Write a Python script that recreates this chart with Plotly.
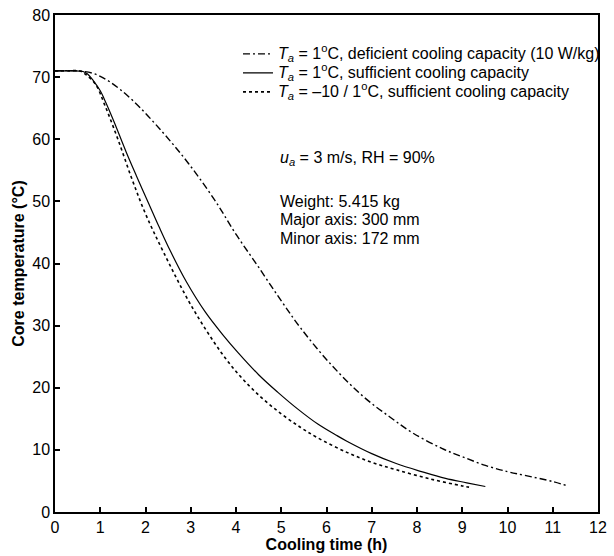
import plotly.graph_objects as go

# Ta = 1°C, deficient cooling capacity (10 W/kg)
t_def = [0, 0.5, 0.84, 1.2, 1.71, 2.37, 2.95, 3.53, 4.01, 4.5, 4.99, 5.43, 6.08, 6.81, 7.4, 7.91, 8.56, 9.0, 9.51, 10.0, 10.38, 11.0, 11.33]
y_def = [71, 71, 70.6, 69.3, 66.3, 61.2, 56.1, 50.2, 44.6, 39.4, 34.1, 29.6, 23.9, 18.6, 15.3, 12.7, 10.2, 8.9, 7.5, 6.5, 5.9, 4.9, 4.2]

# Ta = 1°C, sufficient cooling capacity
t_suf = [0, 0.3, 0.62, 0.72, 0.85, 1.0, 1.13, 1.3, 1.57, 1.8, 2.08, 2.3, 2.55, 2.9, 3.32, 3.7, 4.04, 4.5, 4.92, 5.36, 5.8, 6.23, 6.45, 7.0, 7.54, 8.1, 8.63, 9.1, 9.51]
y_suf = [71, 71, 70.9, 70.5, 69.4, 67.8, 65.8, 62.9, 58.0, 54.1, 49.5, 45.9, 42.0, 37.1, 32.2, 28.6, 25.7, 22.1, 19.3, 16.6, 14.2, 12.3, 11.4, 9.4, 7.8, 6.5, 5.4, 4.7, 4.1]

# Ta = -10 / 1°C, sufficient cooling capacity
t_low = [0, 0.3, 0.55, 0.7, 0.9, 1.1, 1.4, 1.7, 2.0, 2.4, 3.02, 3.68, 4.1, 4.55, 5.0, 5.43, 5.79, 6.45, 7.0, 7.54, 8.3, 9.0, 9.15]
y_low = [71, 71, 71, 70.3, 68.8, 65.5, 59.8, 53.6, 48.0, 41.8, 33.1, 25.6, 21.8, 18.5, 15.8, 13.6, 12.0, 9.6, 8.0, 6.8, 5.3, 4.2, 4.0]

names = [
    "<i>T<sub>a</sub></i> = 1<sup>o</sup>C, deficient cooling capacity (10 W/kg)",
    "<i>T<sub>a</sub></i> = 1<sup>o</sup>C, sufficient cooling capacity",
    "<i>T<sub>a</sub></i> = \u201310 / 1<sup>o</sup>C, sufficient cooling capacity",
]

note_lines = [
    "<i>u<sub>a</sub></i> = 3 m/s, RH = 90%",
    "Weight: 5.415 kg",
    "Major axis: 300 mm",
    "Minor axis: 172 mm",
]
note_y = [0.712, 0.624, 0.588, 0.551]

x_ticks = list(range(0, 13))
y_ticks = list(range(0, 81, 10))

font_family = "Liberation Sans, Arial, Helvetica, sans-serif"
FS = 16

def big(s):
    return '<span style="font-size:16px">' + s + "</span>"

fig = go.Figure()
fig.add_trace(go.Scatter(x=t_def, y=y_def, mode="lines", name=big(names[0]),
                         line=dict(color="black", width=1.4, dash="7px,3px,2px,3px", shape="spline")))
fig.add_trace(go.Scatter(x=t_suf, y=y_suf, mode="lines", name=big(names[1]),
                         line=dict(color="black", width=1.2, shape="spline")))
fig.add_trace(go.Scatter(x=t_low, y=y_low, mode="lines", name=big(names[2]),
                         line=dict(color="black", width=1.6, dash="3px,3px", shape="spline")))

for txt, yy in zip(note_lines, note_y):
    fig.add_annotation(xref="paper", yref="paper", x=0.41, y=yy, xanchor="left", yanchor="middle",
                       text=txt, showarrow=False, align="left",
                       font=dict(size=FS, color="black", family=font_family))

fig.update_layout(
    width=614, height=556,
    margin=dict(l=55, r=9, t=15, b=44),
    paper_bgcolor="white", plot_bgcolor="white",
    font=dict(family=font_family, size=FS, color="black"),
    showlegend=True,
    legend=dict(x=0.337, y=0.951, xanchor="left", yanchor="top",
                bgcolor="rgba(0,0,0,0)", borderwidth=0,
                font=dict(size=12, color="black", family=font_family),
                tracegroupgap=0, itemwidth=30),
    xaxis=dict(range=[0, 12], tickvals=x_ticks, ticks="inside", ticklen=5, tickwidth=1.5,
               tickcolor="black", showline=True, linecolor="black", linewidth=1.5, mirror=True,
               showgrid=False, zeroline=False, automargin=False,
               title=dict(text="<b>Cooling time (h)</b>", standoff=2, font=dict(size=FS)),
               tickfont=dict(size=FS)),
    yaxis=dict(range=[0, 80], tickvals=y_ticks, ticks="inside", ticklen=5, tickwidth=1.5,
               tickcolor="black", showline=True, linecolor="black", linewidth=1.5, mirror=True,
               showgrid=False, zeroline=False, automargin=False,
               title=dict(text="<b>Core temperature (\u00b0C)</b>", standoff=4, font=dict(size=FS)),
               tickfont=dict(size=FS)),
)

fig.write_html("out.html")
